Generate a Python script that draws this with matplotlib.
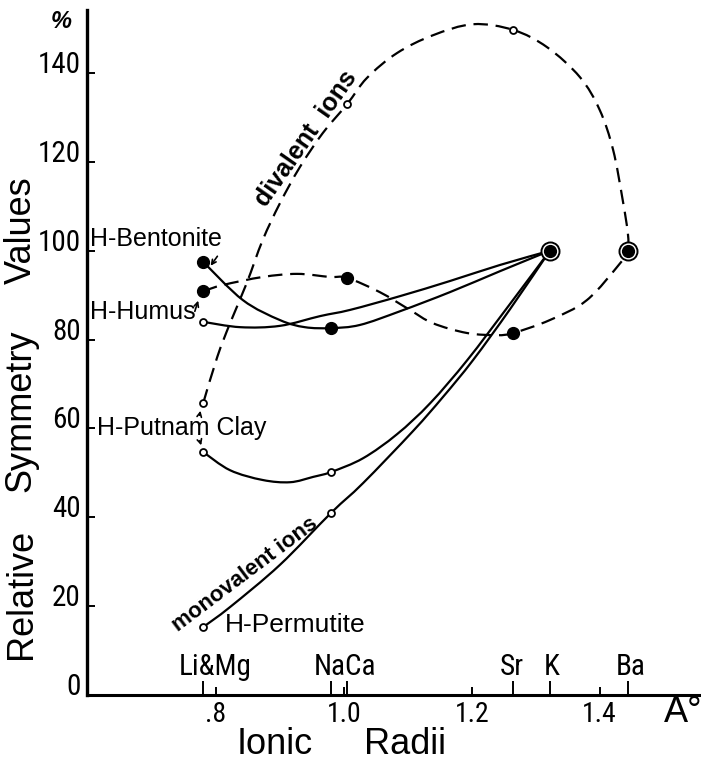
import numpy as np
import matplotlib.pyplot as plt
from matplotlib import font_manager
from matplotlib.path import Path
from matplotlib.patches import PathPatch
from matplotlib import transforms

plt.rcParams['font.family'] = ['Liberation Sans', 'DejaVu Sans']

# the numbers of the original are lettered in a narrow face, use one if there is one
_fonts = font_manager.fontManager.ttflist
_names = {f.name for f in _fonts}
NARROW = None
for cand in ['Liberation Sans Narrow', 'Roboto Condensed', 'Open Sans Condensed',
             'Noto Sans Condensed', 'DejaVu Sans Condensed']:
    if cand in _names:
        NARROW = dict(family=[cand, 'DejaVu Sans'])
        break
if NARROW is None:
    cond = sorted({f.name for f in _fonts if f.stretch in ('condensed', 'semi-condensed')
                   and 'Mono' not in f.name and 'Serif' not in f.name})
    if cond:
        NARROW = dict(family=[cond[0], 'DejaVu Sans'], stretch='condensed')
    else:
        NARROW = dict(family=['Liberation Sans', 'DejaVu Sans'])

W, H = 701, 768

# axis ticks
x_ticks = [0.8, 1.0, 1.2, 1.4]
x_tick_labels = [".8", "1.0", "1.2", "1.4"]
y_ticks = [0, 20, 40, 60, 80, 100, 120, 140]

# ionic radii marked on the axis
ion_ticks = [0.78, 0.98, 1.005, 1.265, 1.322, 1.445]
ion_labels = ["Li&Mg", "NaCa", "Sr", "K", "Ba"]
ion_label_x = [0.798, 1.002, 1.263, 1.325, 1.449]

# measured points
bent_x = [0.78, 0.98]
bent_y = [97.5, 82.6]
humus_div_x = [0.78, 1.005, 1.265]
humus_div_y = [90.9, 93.9, 81.5]
humus_mono_x = [0.78]
humus_mono_y = [84.0]
putnam_div_x = [0.78, 1.005, 1.265]
putnam_div_y = [65.7, 133.0, 149.7]
putnam_mono_x = [0.78, 0.98]
putnam_mono_y = [54.7, 50.2]
perm_mono_x = [0.78, 0.98]
perm_mono_y = [15.3, 41.0]
ref_x = [1.322, 1.445]   # K and Ba = 100 %
ref_y = [100, 100]

# hand drawn curves
putnam_div_cx = [0.780, 0.802, 0.822, 0.848, 0.873, 0.900, 0.931, 0.967, 1.005, 1.036,
                 1.083, 1.139, 1.202, 1.265, 1.318, 1.369, 1.400, 1.421, 1.436, 1.444, 1.445]
putnam_div_cy = [65.7, 76.1, 83.7, 92.7, 102.4, 110.7, 118.8, 126.5, 133.0, 138.9,
                 144.5, 148.5, 151.0, 149.7, 145.8, 139.1, 131.7, 122.7, 111.4, 104.0, 100]
humus_div_cx = [0.78, 0.811, 0.873, 0.927, 0.978, 1.005, 1.056, 1.103, 1.139, 1.192,
                1.239, 1.265, 1.322, 1.380, 1.432, 1.445]
humus_div_cy = [90.9, 92.3, 94.1, 94.8, 94.1, 93.9, 90.7, 86.7, 83.7, 81.5,
                81.0, 81.5, 84.4, 88.9, 97.2, 100]
humus_mono_cx = [0.78, 0.838, 0.900, 0.963, 1.010, 1.088, 1.166, 1.244, 1.322]
humus_mono_cy = [84.0, 82.8, 83.1, 85.3, 86.7, 89.8, 93.2, 96.8, 100]
bent_cx = [0.78, 0.842, 0.900, 0.939, 0.98, 1.025, 1.088, 1.166, 1.244, 1.322]
bent_cy = [97.5, 88.9, 84.4, 82.8, 82.6, 83.3, 86.4, 90.7, 95.4, 100]
putnam_mono_cx = [0.78, 0.822, 0.873, 0.916, 0.952, 0.98, 1.030, 1.083, 1.135, 1.193, 1.257, 1.322]
putnam_mono_cy = [54.7, 50.6, 48.4, 47.9, 49.1, 50.2, 53.3, 58.7, 65.7, 75.4, 87.5, 100]
perm_mono_cx = [0.78, 0.822, 0.900, 0.98, 1.030, 1.108, 1.155, 1.202, 1.260, 1.322]
perm_mono_cy = [15.3, 19.8, 29.3, 41.0, 47.7, 59.4, 67.1, 75.4, 86.9, 100]


def smooth_path(xs, ys):
    # catmull-rom through the traced points, drawn as bezier segments
    p = np.column_stack([xs, ys])
    q = np.vstack([p[0], p, p[-1]])
    verts = [p[0]]
    codes = [Path.MOVETO]
    for i in range(len(p) - 1):
        a, b, c, d = q[i], q[i + 1], q[i + 2], q[i + 3]
        verts += [b + (c - a) / 6, c - (d - b) / 6, c]
        codes += [Path.CURVE4] * 3
    return Path(verts, codes)


def draw_curve(ax, xs, ys, dashed=False):
    ls = (0, (6.5, 3.5)) if dashed else '-'
    ax.add_patch(PathPatch(smooth_path(xs, ys), fill=False, lw=1.6, ls=ls,
                           edgecolor='black', capstyle='butt', zorder=2))


def ftext(x, y, s, **kw):
    fig.text(x / W, 1 - y / H, s, **kw)


fig = plt.figure(figsize=(W / 100, H / 100), dpi=100)
ax = fig.add_axes([87 / W, 73 / H, (W - 87) / W, 685 / H])
ax.set_xlim(0.5983, 1.5584)
ax.set_ylim(0, 154.2)

for s in ['top', 'right']:
    ax.spines[s].set_visible(False)
ax.spines['left'].set_linewidth(2.4)
ax.spines['bottom'].set_linewidth(2.2)

ax.set_xticks(x_ticks)
ax.set_xticks(ion_ticks, minor=True)
ax.set_yticks(y_ticks)
ax.tick_params(axis='both', which='major', direction='in', length=6, width=1.4,
               labelbottom=False, labelleft=False)
ax.tick_params(axis='x', which='minor', direction='in', length=10, width=1.4)

# tick labels, placed by hand like the lettering of the original
ytr = transforms.blended_transform_factory(ax.transAxes, ax.transData) + \
    transforms.ScaledTranslation(-0.065, 0.08, fig.dpi_scale_trans)
for v in y_ticks:
    ax.text(0, v, str(v), transform=ytr, ha='right', va='center', fontsize=21, **NARROW)

xtr = transforms.blended_transform_factory(ax.transData, ax.transAxes) + \
    transforms.ScaledTranslation(0, -0.19, fig.dpi_scale_trans)
for v, lab in zip(x_ticks, x_tick_labels):
    ax.text(v, 0, lab, transform=xtr, ha='center', va='center', fontsize=20, **NARROW)

itr = transforms.blended_transform_factory(ax.transData, ax.transAxes) + \
    transforms.ScaledTranslation(0, 0.28, fig.dpi_scale_trans)
for v, lab in zip(ion_label_x, ion_labels):
    ax.text(v, 0, lab, transform=itr, ha='center', va='center', fontsize=21, **NARROW)

# curves
draw_curve(ax, putnam_div_cx, putnam_div_cy, dashed=True)
draw_curve(ax, humus_div_cx, humus_div_cy, dashed=True)
draw_curve(ax, humus_mono_cx, humus_mono_cy)
draw_curve(ax, bent_cx, bent_cy)
draw_curve(ax, putnam_mono_cx, putnam_mono_cy)
draw_curve(ax, perm_mono_cx, perm_mono_cy)

# open circles
for xs, ys in [(putnam_div_x, putnam_div_y), (putnam_mono_x, putnam_mono_y),
               (perm_mono_x, perm_mono_y), (humus_mono_x, humus_mono_y)]:
    ax.plot(xs, ys, 'o', ms=5, mfc='white', mec='black', mew=1.3, zorder=4)
# filled dots
for xs, ys in [(bent_x, bent_y), (humus_div_x, humus_div_y)]:
    ax.plot(xs, ys, 'o', ms=8.5, color='black', zorder=4)
# K and Ba reference points
ax.plot(ref_x, ref_y, 'o', ms=13, mfc='white', mec='black', mew=1.4, zorder=4)
ax.plot(ref_x, ref_y, 'o', ms=8.5, color='black', zorder=5)

# labels
ftext(61, 22, "%", fontsize=17, fontweight='bold', style='italic', ha='center', va='center')
ftext(683, 713, "A\u00b0", fontsize=26, ha='center', va='center')
ftext(21, 230, "Values", fontsize=26, rotation=90, ha='center', va='center')
ftext(21, 411, "Symmetry", fontsize=26, rotation=90, ha='center', va='center')
ftext(21, 594, "Relative", fontsize=26, rotation=90, ha='center', va='center')
ftext(275, 745, "Ionic", fontsize=26, ha='center', va='center')
ftext(405, 745, "Radii", fontsize=26, ha='center', va='center')

ftext(90, 239, "H-Bentonite", fontsize=18, ha='left', va='center')
ftext(90, 312, "H-Humus", fontsize=18, ha='left', va='center')
ftext(97, 428, "H-Putnam Clay", fontsize=18, ha='left', va='center')
ftext(225, 625, "H-Permutite", fontsize=19, ha='left', va='center')

ftext(306, 139, "divalent  ions", fontsize=18, fontweight='bold', rotation=55,
      rotation_mode='anchor', ha='center', va='center')
ftext(245, 575, "monovalent ions", fontsize=16, fontweight='bold', rotation=37,
      rotation_mode='anchor', ha='center', va='center')

# little pointers from the names to their curves
arrow = dict(arrowstyle='->', lw=1.2, color='black', mutation_scale=8)
for tail, head in [((219, 254), (209, 268)), ((194, 314), (199, 298)),
                   ((199, 418), (201, 408)), ((199, 438), (202, 448))]:
    ax.annotate('', xy=(head[0], H - head[1]), xytext=(tail[0], H - tail[1]),
                xycoords='figure pixels', textcoords='figure pixels', arrowprops=arrow)

fig.savefig("out.png", dpi=100)
